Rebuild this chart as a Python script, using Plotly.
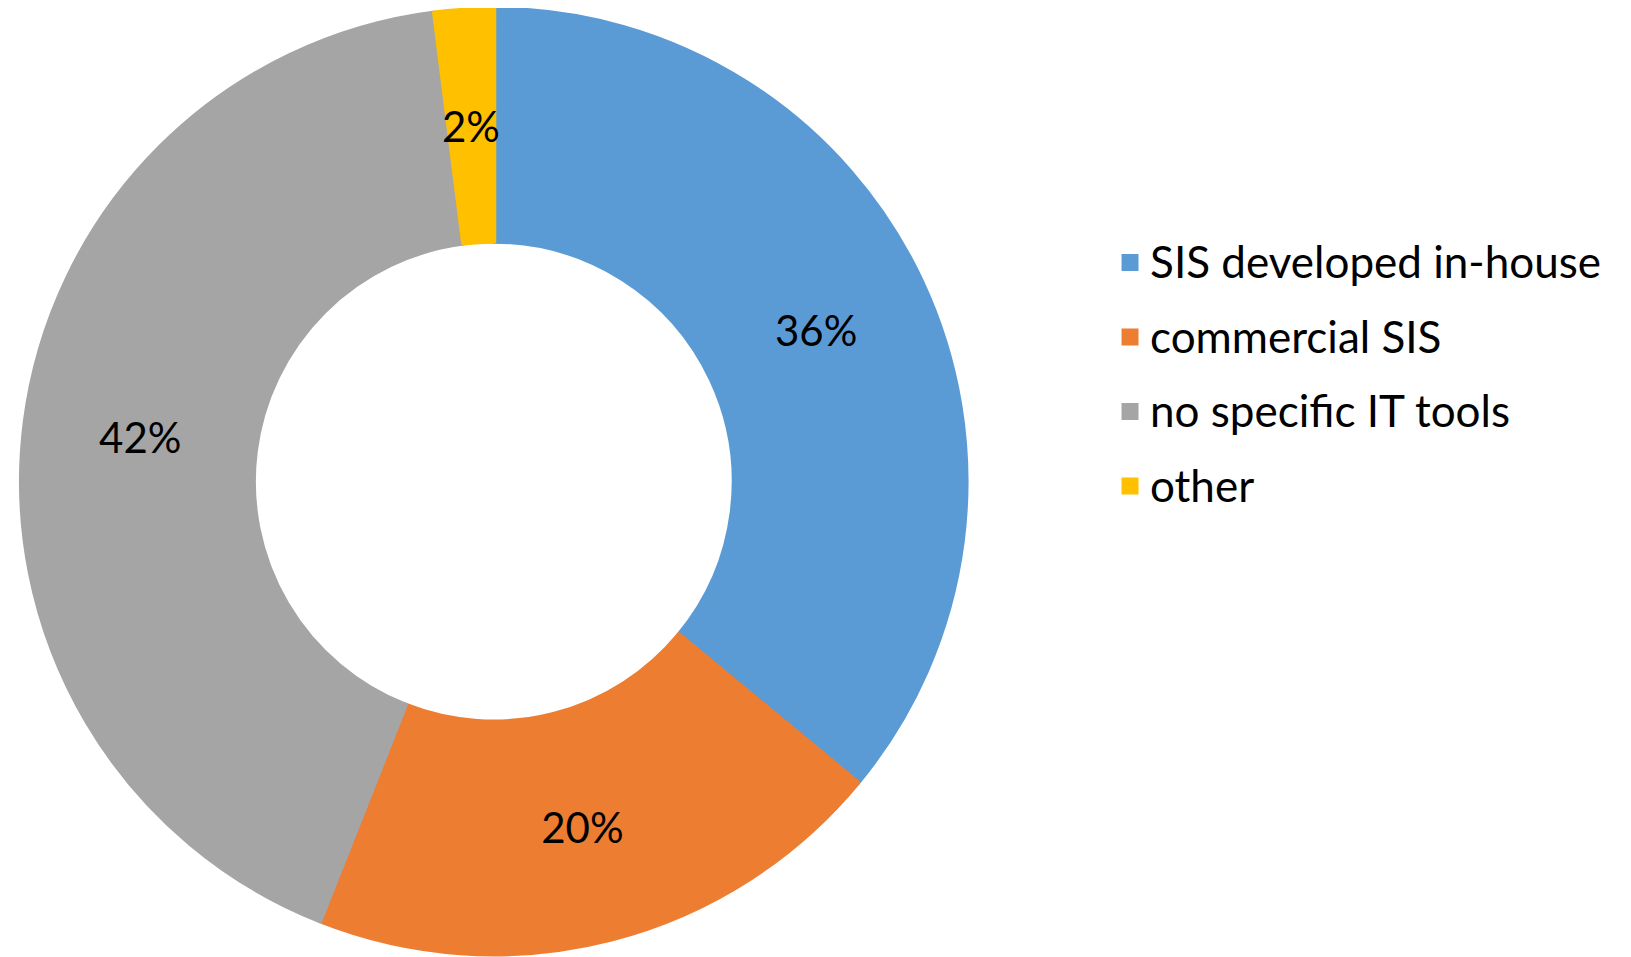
import math
import plotly.graph_objects as go

categories = ["SIS developed in-house", "commercial SIS", "no specific IT tools", "other"]
shares = [36, 20, 42, 2]
colors = ["#5B9BD5", "#ED7D31", "#A5A5A5", "#FFC000"]

W, H = 1623, 949
HOLE = 0.509
dom_x = [0.0083, 0.5903]
dom_y = [0.0030, 0.9989]

legend_labels = [
    '<span style="font-size:44px;baseline-shift:6px">%s</span>' % c for c in categories
]

# the thinnest slice gets its label placed at the middle of its ring section
total = float(sum(shares))
small_idx = [i for i, v in enumerate(shares) if v / total < 0.05]
texts = ["" if i in small_idx else "%d%%" % round(100 * v / total) for i, v in enumerate(shares)]

fig = go.Figure(
    go.Pie(
        labels=legend_labels,
        values=shares,
        hole=HOLE,
        sort=False,
        direction="clockwise",
        rotation=0,
        marker=dict(colors=colors, line=dict(width=5, color=colors)),
        text=texts,
        textinfo="text",
        textposition="inside",
        insidetextorientation="horizontal",
        textfont=dict(family="Lato", size=42, color="black"),
        domain=dict(x=dom_x, y=dom_y),
        hoverinfo="skip",
    )
)

# annotation for tiny slices, derived from values and pie geometry
cx_px = (dom_x[0] + dom_x[1]) / 2 * W
cy_px = (dom_y[0] + dom_y[1]) / 2 * H
r_px = min((dom_x[1] - dom_x[0]) * W, (dom_y[1] - dom_y[0]) * H) / 2
for i in small_idx:
    cum = sum(shares[:i]) + shares[i] / 2.0
    ang = 2 * math.pi * cum / total
    rm = r_px * (1 + HOLE) / 2
    x_px = cx_px + rm * math.sin(ang)
    y_px = cy_px + rm * math.cos(ang)
    fig.add_annotation(
        x=x_px / W, y=y_px / H, xref="paper", yref="paper",
        text="%d%%" % round(100 * shares[i] / total),
        showarrow=False, xanchor="center", yanchor="middle",
        font=dict(family="Lato", size=42, color="black"),
    )

fig.update_layout(
    width=W,
    height=H,
    margin=dict(l=0, r=0, t=0, b=0),
    paper_bgcolor="white",
    plot_bgcolor="white",
    showlegend=True,
    legend=dict(
        x=0.679,
        y=0.614,
        xanchor="left",
        yanchor="middle",
        font=dict(family="Lato", size=55, color="black"),
        bgcolor="rgba(0,0,0,0)",
        traceorder="normal",
    ),
)

fig.write_html("out.html")
